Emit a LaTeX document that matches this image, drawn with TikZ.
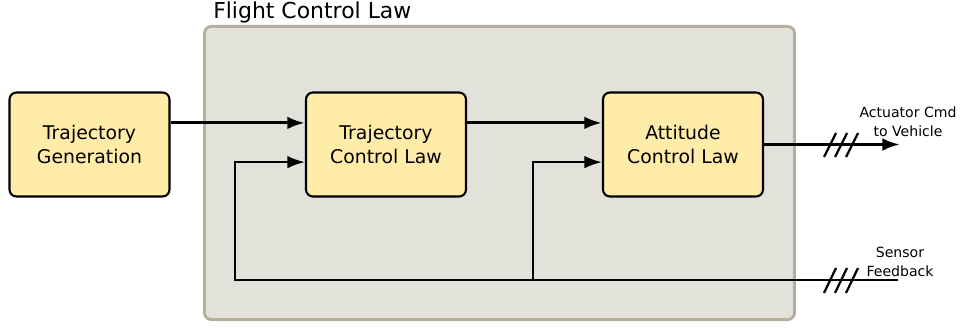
\documentclass[tikz,border=0pt]{standalone}
\usepackage{fontspec}
\setmainfont{DejaVu Sans}
\usetikzlibrary{arrows.meta}
\definecolor{myYellow}{HTML}{FFECA8}
\definecolor{myGrey}{HTML}{E2E1DA}
\definecolor{myTan}{HTML}{B5B09E}

\begin{document}
\begin{tikzpicture}[x=0.025cm, y=-0.025cm, >={Latex[length=12.5pt,width=9pt]}]

  \tikzstyle{F}=[rectangle, draw=myTan, fill=myGrey, line width=2pt, rounded corners=5pt, minimum width=14.75cm, minimum height=7.33cm, inner sep=0pt]
  \tikzstyle{B}=[rectangle, draw=black, fill=myYellow, line width=1.5pt, rounded corners=5pt, minimum width=4.0cm, minimum height=2.6cm, align=center, font=\fontsize{13.4}{16.6}\selectfont]
  \tikzstyle{L}=[align=center, font=\fontsize{10}{13.5}\selectfont, inner sep=0pt]
  \tikzstyle{W}=[line width=2.2pt]
  \tikzstyle{N}=[line width=1.6pt]

  \useasboundingbox (0,0) rectangle (960,328);

  \node[F] at (499.5,173) (fcl) {};
  \node[anchor=base west, inner sep=0pt, font=\fontsize{15.6}{18}\selectfont] at (213,19) (fcltitle) {Flight Control Law};

  \node[B] at (89.5,144.5) (tg) {Trajectory\\Generation};
  \node[B] at (386,144.5) (tcl) {Trajectory\\Control Law};
  \node[B] at (683,144.5) (acl) {Attitude\\Control Law};

  \coordinate (out) at (900,144.5);
  \coordinate (sensor) at (898,280);
  \coordinate (fb1) at (235,280);
  \coordinate (fb2) at (533,280);

  \node[L] at (908,122) (outlabel) {Actuator Cmd\\to Vehicle};
  \node[L] at (900,262) (sensorlabel) {Sensor\\Feedback};

  \draw [->, W] ([yshift=0.54cm]tg.east) to ([yshift=0.54cm]tcl.west);
  \draw [->, W] ([yshift=0.54cm]tcl.east) to ([yshift=0.54cm]acl.west);
  \draw [->, W] (acl.east) to (out);

  \draw [->, N] (sensor) -- (fb1) |- ([yshift=-0.44cm]tcl.west);
  \draw [->, N] (fb2) |- ([yshift=-0.44cm]acl.west);

  % bus marks
  \foreach \x in {830,841,852} \draw [N] (\x-6,157) to (\x+6,133);
  \foreach \x in {830,841,852} \draw [N] (\x-6,293) to (\x+6,268);

\end{tikzpicture}
\end{document}
